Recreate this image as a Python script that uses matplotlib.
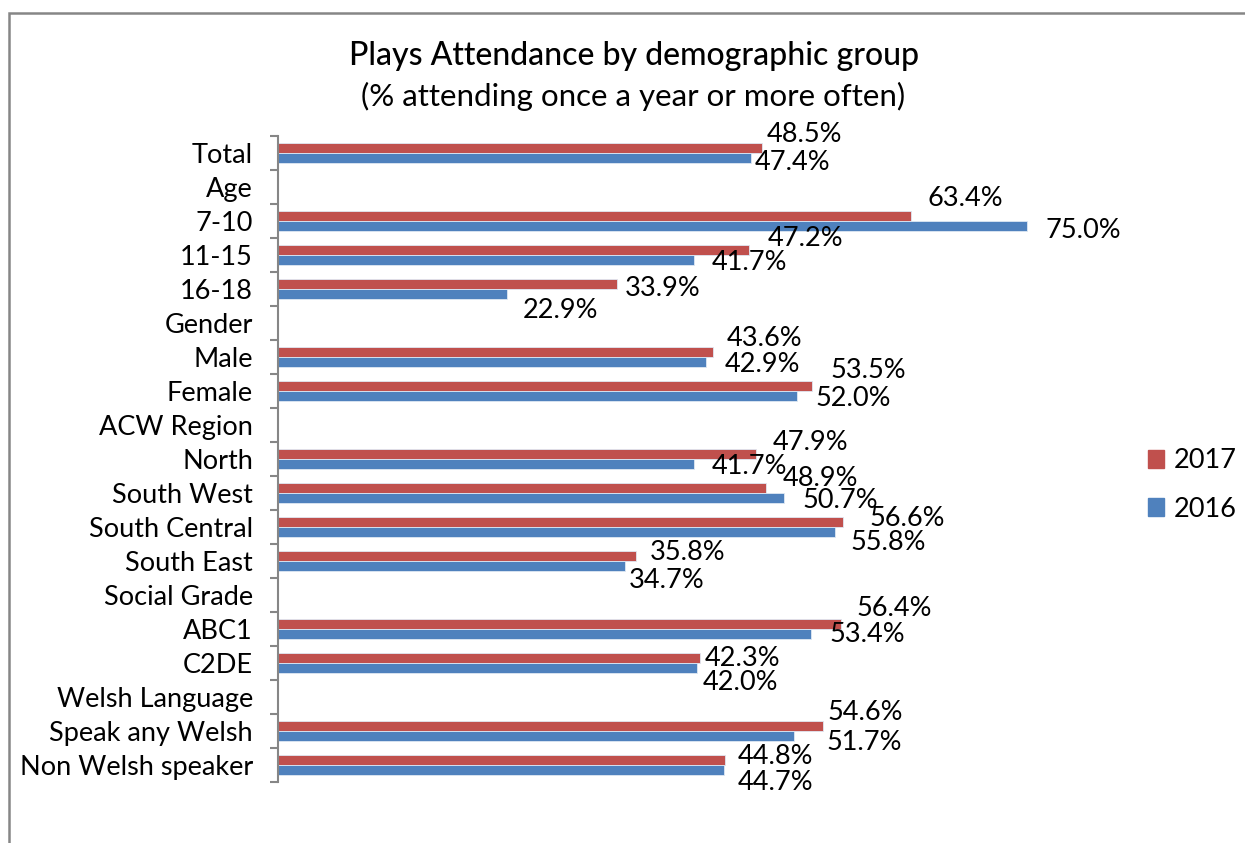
import numpy as np
import matplotlib
matplotlib.use("Agg")
import matplotlib.pyplot as plt
from matplotlib.patches import Rectangle, Patch

# Categories from top to bottom; None marks a section heading with no bars
categories = ["Total", "Age", "7-10", "11-15", "16-18", "Gender", "Male", "Female",
              "ACW Region", "North", "South West", "South Central", "South East",
              "Social Grade", "ABC1", "C2DE", "Welsh Language", "Speak any Welsh",
              "Non Welsh speaker"]
y2017 = [48.5, None, 63.4, 47.2, 33.9, None, 43.6, 53.5, None, 47.9, 48.9, 56.6, 35.8,
         None, 56.4, 42.3, None, 54.6, 44.8]
y2016 = [47.4, None, 75.0, 41.7, 22.9, None, 42.9, 52.0, None, 41.7, 50.7, 55.8, 34.7,
         None, 53.4, 42.0, None, 51.7, 44.7]

# label nudges in pixels (dx right of bar end, dy downwards from bar centre)
off2017 = [(4, -15), None, (16, -19), (18, -13), (8, 2), None, (13, -15), (18, -18), None,
           (16, -13), (16, -11), (26, -5), (14, -6), None, (15, -17), (4, -1), None,
           (4, -15), (12, -6)]
off2016 = [(3, 2), None, (18, 2), (17, 1), (16, 15), None, (18, 0), (18, 1), None,
           (17, 1), (18, 0), (15, 9), (4, 13), None, (18, -2), (5, 12), None,
           (32, 4), (13, 11)]

red = "#C0504D"
blue = "#4F81BD"
grey = "#868686"
plt.rcParams['font.family'] = ['Lato', 'DejaVu Sans']

W, H = 1245, 843
fig = plt.figure(figsize=(W / 100, H / 100), dpi=100)
ax = fig.add_axes([278 / W, 1 - 782 / H, (1077 - 278) / W, (782 - 136) / H])

pos = np.arange(len(categories))
bh = 10 / 34

for vals, offs, col, shift in [(y2017, off2017, red, -bh / 2), (y2016, off2016, blue, bh / 2)]:
    idx = [i for i, v in enumerate(vals) if v is not None]
    w = [vals[i] for i in idx]
    ax.barh(pos[idx] + shift, w, height=bh, color=col, edgecolor="#dfe8f3", linewidth=0.6)
    for i in idx:
        dx, dy = offs[i]
        ax.annotate(f"{vals[i]:.1f}%", (vals[i], pos[i] + shift),
                    xytext=(dx * 0.72, -(dy + 2) * 0.72), textcoords="offset points",
                    ha="left", va="center", fontsize=19.5, color="black")

ax.set_xlim(0, 80)
ax.set_ylim(len(categories) - 0.5, -0.5)
ax.set_xticks([])
ax.set_yticks(pos)
ax.set_yticklabels(categories, fontsize=19.5)
ax.tick_params(axis="y", which="major", length=0, pad=18)
ax.set_yticks(np.arange(len(categories) + 1) - 0.5, minor=True)
ax.tick_params(axis="y", which="minor", length=5.5, width=1.5, color=grey, direction="out")
for s in ["top", "right", "bottom"]:
    ax.spines[s].set_visible(False)
ax.spines["left"].set_color(grey)
ax.spines["left"].set_linewidth(1.5)

fig.text(634 / W, 1 - 56 / H, "Plays Attendance by demographic group", ha="center",
         va="center", fontsize=23, fontweight="medium")
fig.text(633 / W, 1 - 96 / H, "(% attending once a year or more often)", ha="center",
         va="center", fontsize=22.5)

handles = [Patch(color=red, label="2017"), Patch(color=blue, label="2016")]
fig.legend(handles=handles, loc="center left", bbox_to_anchor=(1148 / W, 1 - 485 / H),
           frameon=False, fontsize=19.5, handlelength=0.6, handleheight=0.6,
           handletextpad=0.35, labelspacing=0.85, borderpad=0, borderaxespad=0)

# chart frame
fig.patches.append(Rectangle((9 / W, -0.1), 1.2, 1 - 13 / H + 0.1, transform=fig.transFigure,
                             fill=False, edgecolor=grey, linewidth=1.8))

fig.savefig("out.png", dpi=100)
